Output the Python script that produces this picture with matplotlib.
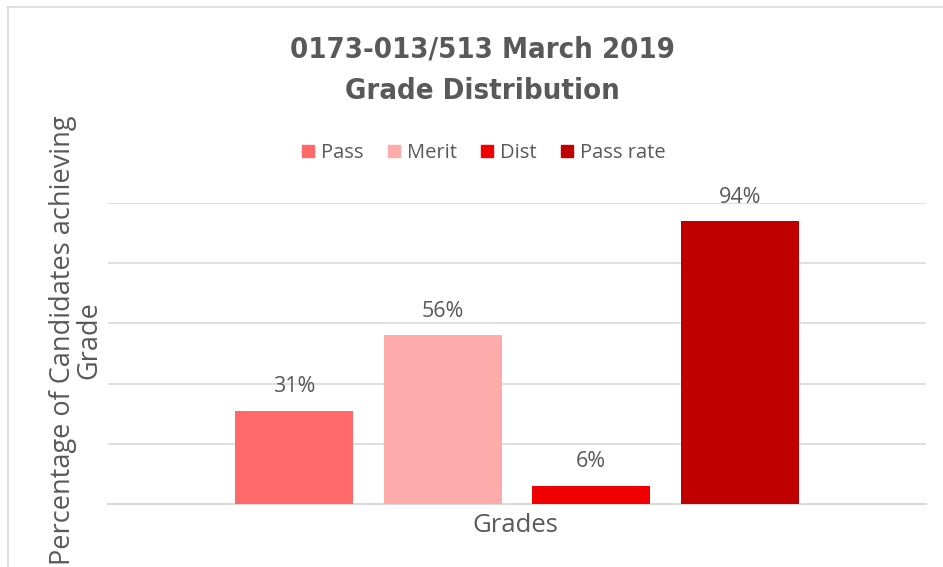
import numpy as np
import matplotlib.pyplot as plt
from matplotlib.lines import Line2D

series = ['Pass', 'Merit', 'Dist', 'Pass rate']
values = [31, 56, 6, 94]
colors = ['#FF6969', '#FFABAB', '#F00000', '#C00000']
yticks = [0, 20, 40, 60, 80, 100]

W, H = 943, 567
fig = plt.figure(figsize=(W / 100, H / 100), dpi=100)
ax = fig.add_axes([108 / W, 1 - 504 / H, 818 / W, 301 / H])

step = 0.1815
width = 0.1443
for i, (name, v, c) in enumerate(zip(series, values, colors)):
    x = (i - 1.5) * step
    ax.bar(x, v, width=width, color=c, label=name, zorder=3)
    ax.text(x, v + 4.5, f'{v}%', ha='center', va='bottom', fontsize=15.5,
            color='#595959', family='Open Sans')

ax.set_xlim(-0.5, 0.5)
ax.set_ylim(0, 100)
ax.set_yticks(yticks)
ax.yaxis.grid(True, color='#D9D9D9', linewidth=1.2, zorder=0)
ax.set_xticks([])
ax.tick_params(left=False, labelleft=False)
for s in ['top', 'right', 'left']:
    ax.spines[s].set_visible(False)
ax.spines['bottom'].set_color('#D9D9D9')
ax.spines['bottom'].set_linewidth(1.5)

fig.text(515 / W, 1 - 525 / H, 'Grades', ha='center', va='center',
         fontsize=18.5, color='#595959', family='Open Sans')
fig.text(76 / W, 1 - 340 / H, 'Percentage of Candidates achieving\nGrade',
         ha='center', va='center', rotation=90, fontsize=19.5,
         color='#595959', family='Open Sans', linespacing=0.9)

fig.text(482 / W, 1 - 49 / H, '0173-013/513 March 2019', ha='center',
         va='center', fontsize=21, fontweight='bold', color='#595959',
         family='DejaVu Sans', fontstretch='condensed')
fig.text(482 / W, 1 - 91 / H, 'Grade Distribution', ha='center',
         va='center', fontsize=21, fontweight='bold', color='#595959',
         family='DejaVu Sans', fontstretch='condensed')

handles = [Line2D([], [], marker='s', linestyle='none', markersize=8.5,
                  markerfacecolor=c, markeredgecolor=c) for c in colors]
fig.legend(handles, series, loc='center', bbox_to_anchor=(481 / W, 1 - 153 / H),
           ncol=4, frameon=False, handletextpad=0.05, columnspacing=0.9,
           handlelength=1.2, prop={'family': 'Open Sans', 'size': 14.5},
           labelcolor='#595959')

# light border of the chart area
fig.add_artist(Line2D([8 / W, 8 / W], [0, 1 - 7 / H], color='#D9D9D9', lw=1.2))
fig.add_artist(Line2D([8 / W, 1], [1 - 7 / H, 1 - 7 / H], color='#D9D9D9', lw=1.2))

fig.savefig('out.png', dpi=100)
